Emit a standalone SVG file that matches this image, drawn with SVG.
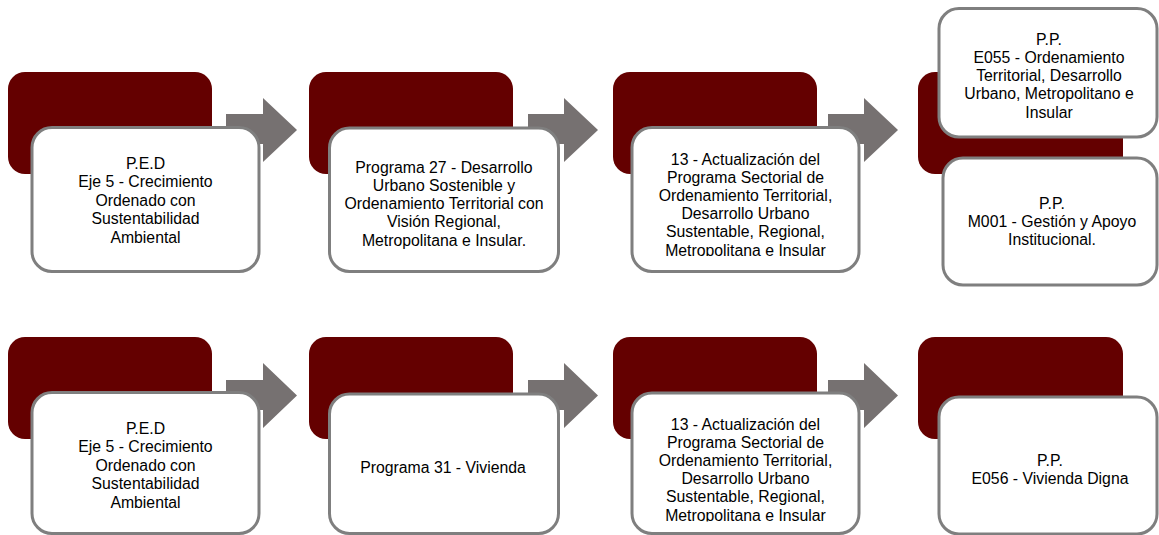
<svg xmlns="http://www.w3.org/2000/svg" width="1159" height="535" viewBox="0 0 1159 535">
<style>
.bg{fill:#640000}
.box{fill:#ffffff;stroke:#7f7f7f;stroke-width:3}
.arr{fill:#767171}
text{font-family:"Liberation Sans",Arial,sans-serif;font-size:15.8px;fill:#000;text-anchor:middle}
</style>
<defs>
<clipPath id="clip1"><rect x="630" y="127" width="232" height="129"/></clipPath>
<clipPath id="clip2"><rect x="630" y="393" width="232" height="128.5"/></clipPath>
</defs>
<rect width="1159" height="535" fill="#ffffff"/>
<g id="connectors">
<polygon class="arr" points="226,114 263,114 263,98 297,130 263,162 263,144 226,144"/>
<polygon class="arr" points="528,114 564,114 564,98 598,130 564,162 564,144 528,144"/>
<polygon class="arr" points="828,114 864,114 864,98 898,130 864,162 864,144 828,144"/>
<polygon class="arr" points="226,380 263,380 263,363 297,395.5 263,428 263,410 226,410"/>
<polygon class="arr" points="528,380 564,380 564,363 598,395.5 564,428 564,410 528,410"/>
<polygon class="arr" points="828,380 864,380 864,363 898,395.5 864,428 864,410 828,410"/>
</g>
<g id="r1c1">
<rect class="bg" x="8" y="72" width="204" height="102" rx="17"/>
<rect class="box" x="32" y="127.5" width="227" height="144" rx="20"/>
<text x="145.5" y="168.5">P.E.D</text>
<text x="145.5" y="187">Eje 5 - Crecimiento</text>
<text x="145.5" y="205.5">Ordenado con</text>
<text x="145.5" y="224">Sustentabilidad</text>
<text x="145.5" y="242.5">Ambiental</text>
</g>
<g id="r1c2">
<rect class="bg" x="309" y="72" width="204" height="102" rx="17"/>
<rect class="box" x="329.5" y="128" width="229" height="143.5" rx="20"/>
<text x="444" y="172.5">Programa 27 - Desarrollo</text>
<text x="444" y="190.8">Urbano Sostenible y</text>
<text x="444" y="209.1">Ordenamiento Territorial con</text>
<text x="444" y="227.4">Visión Regional,</text>
<text x="444" y="245.7">Metropolitana e Insular.</text>
</g>
<g id="r1c3">
<rect class="bg" x="613" y="72" width="204" height="102" rx="17"/>
<rect class="box" x="632" y="127.5" width="227" height="144" rx="20"/>
<g clip-path="url(#clip1)">
<text x="745.5" y="164.5">13 - Actualización del</text>
<text x="745.5" y="182.7">Programa Sectorial de</text>
<text x="745.5" y="200.9">Ordenamiento Territorial,</text>
<text x="745.5" y="219.1">Desarrollo Urbano</text>
<text x="745.5" y="237.3">Sustentable, Regional,</text>
<text x="745.5" y="255.5">Metropolitana e Insular</text>
</g>
</g>
<g id="r1c4">
<rect class="bg" x="918" y="72" width="205" height="102" rx="17"/>
<rect class="box" x="939" y="8.5" width="218" height="128.5" rx="20"/>
<text x="1049" y="44.5">P.P.</text>
<text x="1049" y="62.8">E055 - Ordenamiento</text>
<text x="1049" y="81.1">Territorial, Desarrollo</text>
<text x="1049" y="99.4">Urbano, Metropolitano e</text>
<text x="1049" y="117.7">Insular</text>
<rect class="box" x="943" y="158" width="214" height="127" rx="20"/>
<text x="1052" y="208.5">P.P.</text>
<text x="1052" y="226.5">M001 - Gestión y Apoyo</text>
<text x="1052" y="244.5">Institucional.</text>
</g>
<g id="r2c1">
<rect class="bg" x="8" y="337" width="204" height="102" rx="17"/>
<rect class="box" x="32" y="392.5" width="227" height="141" rx="20"/>
<text x="145.5" y="433.5">P.E.D</text>
<text x="145.5" y="452">Eje 5 - Crecimiento</text>
<text x="145.5" y="470.5">Ordenado con</text>
<text x="145.5" y="489">Sustentabilidad</text>
<text x="145.5" y="507.5">Ambiental</text>
</g>
<g id="r2c2">
<rect class="bg" x="309" y="337" width="204" height="102" rx="17"/>
<rect class="box" x="329.5" y="394" width="229" height="139.5" rx="20"/>
<text x="443" y="472.5">Programa 31 - Vivienda</text>
</g>
<g id="r2c3">
<rect class="bg" x="613" y="337" width="204" height="102" rx="17"/>
<rect class="box" x="632" y="393" width="227" height="140.5" rx="20"/>
<g clip-path="url(#clip2)">
<text x="745.5" y="429.5">13 - Actualización del</text>
<text x="745.5" y="447.7">Programa Sectorial de</text>
<text x="745.5" y="465.9">Ordenamiento Territorial,</text>
<text x="745.5" y="484.1">Desarrollo Urbano</text>
<text x="745.5" y="502.3">Sustentable, Regional,</text>
<text x="745.5" y="520.5">Metropolitana e Insular</text>
</g>
</g>
<g id="r2c4">
<rect class="bg" x="918" y="337" width="205" height="102" rx="17"/>
<rect class="box" x="939" y="397" width="218" height="137" rx="20"/>
<text x="1050" y="465.5">P.P.</text>
<text x="1050" y="484">E056 - Vivienda Digna</text>
</g>
</svg>
